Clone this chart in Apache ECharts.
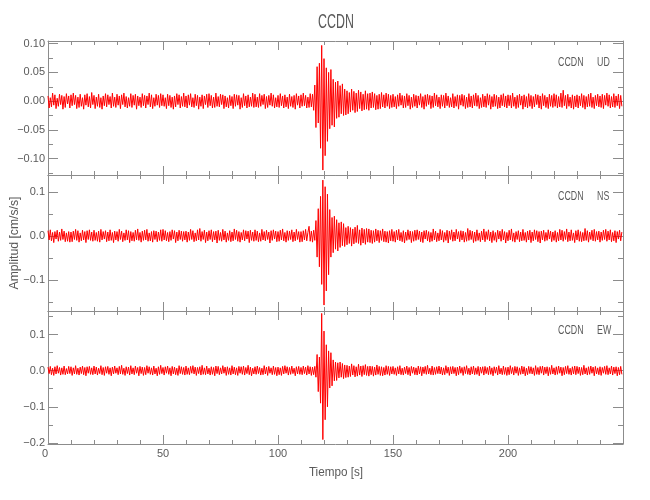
<!DOCTYPE html>
<html>
<head>
<meta charset="utf-8">
<script src="https://cdn.jsdelivr.net/npm/echarts@6/dist/echarts.min.js"></script>
<style>html,body{margin:0;padding:0;background:#fff}#c{width:650px;height:500px}</style>
</head>
<body>
<div id="c"></div>
<script>
// sample spacing of the traces (seconds)
const sampleStep = 0.5;
// x axis
const xRange = [0, 250];
const xTickLabels = [0, 50, 100, 150, 200];
// y ranges of the three panels
const udRange = [-0.1286, 0.1047];
const nsRange = [-0.1705, 0.1386];
const ewRange = [-0.2033, 0.1657];
// tick labels / tick positions
const udMajor = [-0.10, -0.05, 0.00, 0.05, 0.10];
const udMinor = [-0.125, -0.075, -0.025, 0.025, 0.075];
const nsMajor = [-0.1, 0.0, 0.1];
const nsMinor = [-0.15, -0.05, 0.05];
const ewMajor = [-0.2, -0.1, 0.0, 0.1];
const ewMinor = [-0.15, -0.05, 0.05, 0.15];
const stationName = 'CCDN';
const componentNames = ['UD', 'NS', 'EW'];

// amplitudes in 0.001 cm/s/s, one value every 0.5 s (20 values per 10 s row)
const udValues = [
9,-12,6,-10,14,-7,11,-13,5,-9,12,-6,10,-14,8,-11,13,-5,9,-12,
11,-8,14,-6,10,-13,7,-11,12,-9,6,-14,11,-7,13,-10,8,-12,15,-6,
10,-13,7,-9,12,-11,6,-14,9,-8,13,-10,11,-6,8,-12,14,-9,7,-11,
12,-7,9,-13,11,-6,14,-10,8,-12,6,-9,13,-11,10,-7,12,-14,9,-8,
7,-11,13,-8,10,-12,9,-6,14,-10,11,-13,6,-9,12,-7,10,-11,13,-8,
11,-9,6,-13,12,-8,10,-11,7,-14,9,-10,13,-6,11,-12,8,-9,14,-10,
9,-12,11,-7,13,-10,6,-11,12,-8,10,-14,7,-9,11,-13,9,-6,12,-11,
13,-8,10,-12,7,-11,14,-9,8,-10,12,-6,11,-13,9,-10,6,-12,10,-8,
8,-13,12,-9,11,-7,10,-14,6,-11,13,-8,9,-12,11,-10,7,-9,14,-11,
12,-10,7,-11,13,-9,10,-6,12,-13,8,-11,10,-7,14,-9,11,-12,6,-10,
10,-11,13,-8,9,-12,11,-10,7,-13,12,-9,8,-11,10,-14,13,-7,9,-12,
11,-9,14,-8,10,-12,7,-11,13,-10,12,-16,28,-46,60,-38,66,-82,97,-120,
74,-95,58,-70,50,-48,55,-42,38,-45,33,-30,35,-28,27,-22,30,-25,21,-24,
18,-22,15,-19,21,-16,17,-20,14,-18,19,-13,16,-17,12,-15,18,-14,13,-16,
14,-12,16,-11,13,-15,10,-14,12,-13,15,-10,11,-12,14,-9,12,-13,10,-11,
12,-10,8,-13,11,-9,14,-7,10,-12,9,-11,13,-8,10,-14,7,-11,12,-9,
10,-12,9,-7,13,-11,8,-14,11,-9,12,-6,10,-13,9,-11,14,-8,11,-10,
7,-13,11,-9,10,-12,14,-8,9,-11,6,-10,13,-12,8,-9,11,-14,10,-7,
12,-9,10,-13,7,-11,13,-10,9,-12,11,-8,14,-9,10,-13,6,-11,12,-10,
9,-11,13,-7,11,-14,8,-10,12,-9,10,-13,7,-12,11,-8,13,-10,9,-12,
11,-8,10,-12,14,-9,7,-13,10,-11,12,-7,9,-14,11,-10,8,-12,13,-9,
10,-13,8,-10,12,-6,11,-12,9,-14,13,-8,10,-11,7,-13,12,-9,10,-11,
13,-9,11,-12,8,-10,14,-11,19,-8,10,-13,12,-9,7,-12,11,-14,9,-10,
11,-12,9,-8,13,-11,10,-14,8,-10,12,-9,14,-11,7,-13,10,-8,12,-10,
9,-11,12,-13,10,-7,14,-9,11,-12,8,-10,13,-11,9,-8,12,-13,10,-9
];
const nsValues = [
12,-9,14,-11,8,-15,10,-7,13,-12,9,-10,16,-8,11,-13,7,-12,10,-14,
9,-13,11,-8,15,-10,12,-14,7,-11,13,-9,10,-15,12,-8,14,-10,9,-12,
13,-10,8,-12,11,-14,15,-9,10,-7,12,-13,9,-11,14,-10,8,-15,11,-9,
10,-12,15,-8,11,-13,7,-10,14,-9,12,-15,10,-11,8,-12,13,-9,16,-10,
8,-14,11,-10,13,-9,15,-12,7,-11,10,-14,12,-8,11,-13,9,-10,14,-12,
15,-9,12,-11,8,-13,10,-10,14,-7,12,-15,9,-11,13,-8,11,-12,10,-9,
11,-14,9,-10,15,-8,12,-13,7,-11,14,-9,17,-12,10,-8,13,-15,9,-11,
12,-8,14,-13,10,-9,11,-16,13,-10,8,-12,15,-9,11,-14,7,-10,12,-13,
9,-11,16,-8,13,-12,10,-14,8,-9,14,-11,12,-7,11,-15,13,-10,9,-12,
14,-10,11,-13,7,-12,15,-9,10,-11,13,-8,9,-16,12,-10,14,-7,11,-13,
10,-12,13,-9,16,-11,8,-14,12,-10,11,-8,14,-13,9,-11,15,-8,10,-14,
10,-13,12,-9,15,-11,8,22,-12,11,-14,13,-10,35,-48,62,-70,90,-110,127,
-157,112,-125,95,-88,60,-48,42,-38,45,-30,37,-34,30,-26,32,-22,28,-24,19,
-20,22,-17,19,-23,16,-18,20,-15,24,-17,14,-21,18,-16,15,-19,17,-14,16,
-15,13,-17,12,-14,16,-11,13,-15,12,-10,16,-13,11,-14,10,-16,12,-11,15,
-12,10,-14,13,-9,15,-11,8,-13,12,-16,9,-10,14,-8,11,-15,10,-12,13,
-10,14,-8,11,-13,9,-15,12,-7,13,-11,10,-14,8,-12,16,-9,11,-13,7,
-11,15,-9,12,-14,8,-10,13,-16,11,-8,14,-12,9,-11,15,-7,10,-13,12,
-9,11,-14,8,-12,17,-10,13,-8,11,-15,9,-12,14,-10,7,-13,11,-9,16,
-13,10,-8,14,-11,9,-15,12,-10,8,-14,13,-7,11,-12,15,-9,10,-16,8,
-11,13,-9,16,-12,7,-14,10,-8,12,-13,9,-11,15,-10,8,-14,11,-9,13,
-15,9,-11,14,-8,12,-13,10,-16,11,-9,13,-12,8,-10,14,-7,11,-13,9,
-10,12,-14,8,-11,15,-9,13,-12,10,-8,16,-13,9,-11,14,-10,7,-15,12,
-9,14,-12,10,-13,8,-11,17,-10,12,-14,9,-8,13,-11,15,-12,10,-9,11,
-14,9,-10,13,-8,15,-12,11,-9,14,-13,8,-11,12,-15,10,-7,13,-11,9
];
const ewValues = [
10,-8,12,-11,7,-13,11,-9,14,-7,9,-12,8,-10,13,-11,6,-9,12,-8,
11,-13,8,-9,14,-10,7,-12,10,-8,13,-11,9,-14,11,-7,12,-10,8,-11,
13,-9,10,-12,7,-8,14,-11,9,-13,11,-7,12,-10,8,-14,10,-9,13,-7,
8,-11,12,-9,15,-10,7,-13,11,-8,10,-12,14,-9,8,-11,13,-7,9,-14,
12,-8,10,-13,9,-11,14,-7,11,-10,8,-12,13,-9,7,-14,11,-10,15,-8,
9,-12,11,-7,13,-10,8,-14,12,-9,10,-11,7,-13,14,-8,11,-10,9,-12,
13,-10,8,-11,12,-7,14,-9,10,-13,9,-8,11,-12,15,-10,8,-11,13,-9,
7,-12,11,-10,9,-14,13,-8,12,-11,8,-9,14,-7,10,-13,11,-10,8,-12,
14,-9,10,-11,8,-13,12,-7,11,-10,13,-12,9,-8,15,-11,10,-14,7,-9,
11,-10,13,-8,9,-12,7,-11,14,-9,10,-13,12,-7,8,-11,13,-10,9,-14,
10,-11,8,-13,12,-9,14,-7,11,-12,9,-10,13,-8,7,-14,11,-9,12,-10,
9,-11,13,-8,10,-12,14,-9,11,-13,10,-11,12,-18,45,-58,38,-90,159,-191,
110,-136,72,-100,55,-48,50,-42,30,-28,24,-27,22,-20,24,-18,20,-22,16,-19,
15,-18,13,-16,19,-12,14,-17,11,-15,18,-12,13,-16,14,-11,17,-13,12,-15,
13,-11,12,-15,10,-12,16,-10,12,-13,11,-14,9,-12,14,-10,12,-13,11,-9,
12,-10,8,-13,11,-9,14,-11,7,-12,10,-8,13,-11,9,-14,12,-7,10,-11,
8,-12,13,-9,11,-14,10,-8,12,-10,15,-9,7,-11,13,-12,9,-10,11,-8,
13,-9,10,-12,8,-11,14,-7,10,-13,11,-9,12,-8,9,-14,10,-11,13,-7,
9,-13,11,-8,14,-10,7,-12,11,-9,13,-11,8,-10,12,-14,10,-7,11,-12,
12,-8,9,-11,13,-10,8,-14,11,-7,10,-12,14,-9,7,-11,13,-10,9,-13,
10,-11,14,-8,9,-12,12,-7,11,-13,8,-10,13,-9,11,-14,7,-11,12,-8,
11,-9,8,-13,14,-10,9,-11,12,-7,13,-12,10,-8,11,-14,9,-10,15,-9,
8,-12,11,-10,13,-7,10,-14,9,-11,12,-8,14,-10,7,-12,11,-9,13,-11,
12,-8,10,-13,9,-11,15,-9,8,-12,11,-10,13,-7,10,-14,12,-9,8,-11,
11,-13,9,-7,12,-10,14,-11,8,-9,13,-12,10,-8,11,-14,9,-11,12,-10
];

const LINE = '#8c8c8c';
const TEXT = '#5a5a5a';
const FONT = 'Liberation Sans';

function toPairs(vals) {
  return vals.map((v, i) => [i * sampleStep, v / 1000]);
}
function fmt(digits) {
  return v => {
    const s = Math.abs(v).toFixed(digits);
    return (v < -1e-9 ? '\u2212' : '') + s;
  };
}

const panels = [
  { top: 41, height: 134, range: udRange, major: udMajor, minor: udMinor, digits: 2, vals: udValues, labelY: 62 },
  { top: 175, height: 136, range: nsRange, major: nsMajor, minor: nsMinor, digits: 1, vals: nsValues, labelY: 196 },
  { top: 311, height: 133, range: ewRange, major: ewMajor, minor: ewMinor, digits: 1, vals: ewValues, labelY: 330 }
];

const grids = [], xAxes = [], yAxes = [], series = [], graphics = [];
panels.forEach((p, g) => {
  grids.push({ left: 48, top: p.top, width: 575, height: p.height, containLabel: false });
  const xBase = {
    gridIndex: g, type: 'value', min: xRange[0], max: xRange[1], interval: 50,
    axisLine: { show: true, onZero: false, lineStyle: { color: LINE, width: 1 } },
    axisTick: { show: true, inside: true, length: 9, lineStyle: { color: LINE } },
    minorTick: { show: true, splitNumber: 5, length: 4, lineStyle: { color: LINE } },
    splitLine: { show: false }, minorSplitLine: { show: false }
  };
  xAxes.push(Object.assign({}, xBase, {
    position: 'bottom',
    axisLabel: g === 2 ? {
      show: true, customValues: xTickLabels, color: TEXT, fontSize: 11, fontFamily: FONT, margin: 4,
      alignMinLabel: 'right', formatter: v => String(v)
    } : { show: false }
  }));
  xAxes.push(Object.assign({}, xBase, { position: 'top', axisLabel: { show: false } }));
  const yBase = {
    gridIndex: g, type: 'value', min: p.range[0], max: p.range[1],
    splitLine: { show: false }
  };
  yAxes.push(Object.assign({}, yBase, {
    position: 'left',
    axisLine: { show: true, onZero: false, lineStyle: { color: LINE } },
    axisTick: { show: true, inside: true, length: 10, customValues: p.major, lineStyle: { color: LINE } },
    axisLabel: { show: true, customValues: p.major, formatter: fmt(p.digits), color: TEXT, fontSize: 11, fontFamily: FONT, margin: 3 }
  }));
  yAxes.push(Object.assign({}, yBase, {
    position: 'left',
    axisLine: { show: false, onZero: false },
    axisTick: { show: true, inside: true, length: 5, customValues: p.minor, lineStyle: { color: LINE } },
    axisLabel: { show: false }
  }));
  yAxes.push(Object.assign({}, yBase, {
    position: 'right',
    axisLine: { show: true, onZero: false, lineStyle: { color: LINE } },
    axisTick: { show: true, inside: true, length: 10, customValues: p.major, lineStyle: { color: LINE } },
    axisLabel: { show: false }
  }));
  yAxes.push(Object.assign({}, yBase, {
    position: 'right',
    axisLine: { show: false, onZero: false },
    axisTick: { show: true, inside: true, length: 5, customValues: p.minor, lineStyle: { color: LINE } },
    axisLabel: { show: false }
  }));
  series.push({
    type: 'line', xAxisIndex: g * 2, yAxisIndex: g * 4,
    data: toPairs(p.vals), showSymbol: false, symbol: 'none', sampling: null,
    lineStyle: { color: '#ff0000', width: 1 }, silent: true, animation: false
  });
  graphics.push({
    type: 'text', x: 558, y: p.labelY, scaleX: 0.68,
    style: { text: stationName, fill: TEXT, font: '13px "' + FONT + '"', textAlign: 'left', textVerticalAlign: 'middle' }
  });
  graphics.push({
    type: 'text', x: 597, y: p.labelY, scaleX: 0.68,
    style: { text: componentNames[g], fill: TEXT, font: '13px "' + FONT + '"', textAlign: 'left', textVerticalAlign: 'middle' }
  });
});

graphics.push({
  type: 'text', x: 336, y: 22, scaleX: 0.62,
  style: { text: stationName, fill: TEXT, font: '20px "' + FONT + '"', textAlign: 'center', textVerticalAlign: 'middle' }
});
graphics.push({
  type: 'text', x: 14, y: 243, rotation: Math.PI / 2, scaleX: 0.94,
  style: { text: 'Amplitud [cm/s/s]', fill: TEXT, font: '13px "' + FONT + '"', textAlign: 'center', textVerticalAlign: 'middle' }
});
graphics.push({
  type: 'text', x: 336, y: 472, scaleX: 0.9,
  style: { text: 'Tiempo [s]', fill: TEXT, font: '13px "' + FONT + '"', textAlign: 'center', textVerticalAlign: 'middle' }
});

const chart = echarts.init(document.getElementById('c'), null, { renderer: 'canvas' });
chart.setOption({
  animation: false,
  backgroundColor: '#ffffff',
  grid: grids, xAxis: xAxes, yAxis: yAxes, series: series, graphic: graphics
});
</script>
</body>
</html>
